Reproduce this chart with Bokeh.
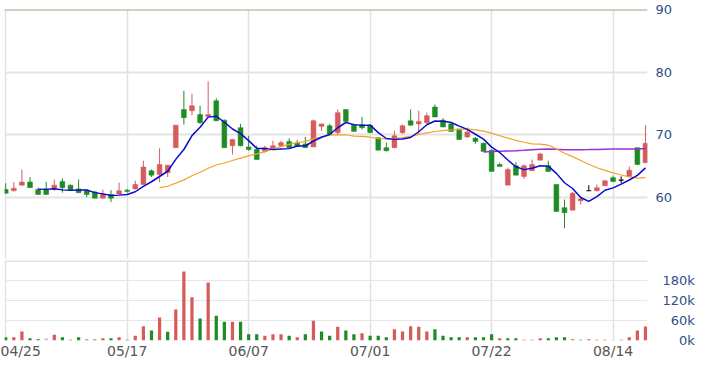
import numpy as np
import pandas as pd
from bokeh.plotting import figure
from bokeh.layouts import column
from bokeh.models import Range1d, FixedTicker, Span, ColumnDataSource
from bokeh.embed import file_html
from bokeh.resources import INLINE

# ---------------- data ----------------
tick_index = [0, 15, 30, 45, 60, 75]
tick_labels = ["04/25", "05/17", "06/07", "07/01", "07/22", "08/14"]

opens = [61.2, 61.0, 61.9, 62.4, 61.2, 61.3, 61.2, 62.5, 61.9, 61.3,
         61.1, 60.8, 59.8, 60.4, 60.5, 61.1, 61.3, 62.0, 64.2, 63.6,
         63.9, 67.9, 74.0, 73.8, 73.2, 72.9, 75.4, 72.3, 68.2, 71.1,
         68.0, 67.6, 67.3, 67.6, 68.2, 68.9, 68.6, 68.5, 68.0, 71.3,
         71.4, 70.3, 74.0, 71.6, 71.6, 71.5, 69.5, 67.9, 67.9, 70.3,
         72.2, 71.7, 71.9, 74.4, 72.3, 71.7, 70.9, 69.6, 69.4, 68.6,
         67.5, 65.2, 61.9, 65.0, 63.3, 64.2, 65.9, 65.0, 62.0, 58.3,
         57.9, 59.4, 61.0, 61.0, 61.8, 63.1, 62.7, 63.3, 67.9, 65.5]
highs = [62.2, 62.4, 64.4, 63.2, 61.5, 62.4, 62.8, 63.0, 62.0, 62.8,
         61.2, 61.0, 61.2, 61.1, 62.3, 61.3, 62.6, 65.8, 64.4, 67.8,
         65.1, 71.5, 77.0, 76.5, 74.6, 78.5, 75.8, 72.4, 69.3, 71.7,
         69.8, 68.2, 68.2, 69.0, 69.0, 69.4, 69.1, 69.6, 72.4, 71.7,
         71.7, 74.0, 74.0, 71.7, 72.8, 71.6, 69.5, 68.7, 70.6, 71.6,
         74.0, 73.8, 73.5, 74.8, 72.6, 71.9, 70.9, 71.1, 69.6, 68.7,
         67.6, 65.5, 64.7, 65.6, 65.2, 66.0, 67.1, 65.8, 62.0, 59.6,
         60.8, 60.1, 61.9, 62.0, 62.7, 63.4, 63.3, 64.9, 67.9, 71.5]
lows = [60.6, 60.9, 61.8, 61.5, 60.4, 60.4, 61.0, 60.7, 61.0, 60.7,
        60.0, 59.8, 59.8, 59.2, 60.4, 60.7, 61.2, 62.0, 63.2, 62.4,
        63.2, 67.9, 71.6, 73.1, 71.7, 72.9, 72.2, 67.9, 66.8, 68.1,
        67.4, 66.0, 67.1, 67.6, 68.0, 67.8, 68.0, 67.9, 68.0, 70.6,
        70.0, 69.9, 71.9, 70.5, 70.8, 70.3, 67.5, 67.3, 67.8, 70.1,
        71.4, 70.0, 71.6, 72.8, 71.2, 70.5, 69.2, 69.5, 68.5, 67.3,
        64.1, 64.9, 61.9, 63.5, 62.9, 64.2, 65.9, 64.1, 57.7, 55.0,
        57.9, 58.8, 61.0, 60.9, 61.8, 62.4, 62.2, 63.3, 65.1, 65.5]
closes = [60.6, 61.4, 62.4, 61.5, 60.4, 60.4, 61.9, 61.5, 61.1, 60.7,
          60.4, 59.8, 60.5, 59.8, 61.0, 60.9, 62.0, 64.8, 63.5, 65.2,
          65.1, 71.5, 72.7, 74.6, 71.9, 73.2, 72.2, 67.9, 69.2, 68.2,
          67.6, 66.0, 67.9, 68.2, 68.7, 67.9, 68.1, 67.9, 72.2, 71.7,
          70.1, 73.5, 72.1, 70.5, 71.1, 70.3, 67.5, 67.4, 69.8, 71.4,
          71.5, 72.1, 73.0, 72.8, 71.2, 70.5, 69.2, 70.4, 68.9, 67.3,
          64.1, 64.9, 64.4, 63.5, 65.0, 65.2, 66.9, 64.1, 57.7, 57.5,
          60.6, 59.7, 61.0, 61.5, 62.6, 62.5, 62.7, 64.3, 65.2, 68.6]
volumes_k = [10, 10, 27, 7, 4, 7, 17, 10, 2, 10,
             3, 3, 7, 7, 10, 2, 14, 43, 30, 69,
             26, 93, 207, 130, 66, 174, 74, 56, 56, 56,
             19, 19, 14, 19, 19, 14, 10, 19, 59, 27,
             14, 41, 30, 19, 22, 14, 14, 10, 34, 27,
             43, 41, 27, 34, 14, 10, 10, 10, 10, 10,
             19, 7, 7, 7, 2, 2, 7, 7, 10, 10,
             4, 2, 4, 2, 2, 1, 2, 10, 30, 42]

# ---------------- styles ----------------
RED = "#d65c5c"
GREEN = "#1f8b24"
GRAY = "#c8c8c8"
AXIS_BLUE = "#2f4f86"
FONT = "DejaVu Sans"

o = np.array(opens, dtype=float)
h = np.array(highs, dtype=float)
l = np.array(lows, dtype=float)
c = np.array(closes, dtype=float)
v = np.array(volumes_k, dtype=float) * 1000.0
idx = np.arange(len(c))

candle_color = np.where(c > o, RED, np.where(c < o, GREEN, "black"))
prev_close = np.concatenate([[o[0]], c[:-1]])
vol_color = np.where(c > prev_close, RED, np.where(c < prev_close, GREEN, GRAY))

cs = pd.Series(c)
ma5 = cs.rolling(5).mean().to_numpy()
ma20 = cs.rolling(20).mean().to_numpy()
ma60 = cs.rolling(60).mean().to_numpy()

body = (c != o)
src = ColumnDataSource(dict(x=idx, h=h, l=l, col=candle_color))
body_src = ColumnDataSource(dict(x=idx[body], top=np.maximum(o, c)[body],
                                 bot=np.minimum(o, c)[body], col=candle_color[body]))
doji_src = ColumnDataSource(dict(x0=idx[~body] - 0.3, x1=idx[~body] + 0.3,
                                 y=c[~body], col=candle_color[~body]))
vol_src = ColumnDataSource(dict(x=idx, v=v, col=vol_color))

xr = Range1d(-0.15, 79.25)

# ---------------- price panel ----------------
p1 = figure(x_range=xr, y_range=Range1d(50, 90),
            frame_width=643, frame_height=250,
            min_border_left=4, min_border_right=48, min_border_top=9, min_border_bottom=0,
            x_axis_location=None, y_axis_location="right",
            output_backend="svg", toolbar_location=None)
p1.outline_line_color = None
p1.background_fill_color = "white"
p1.border_fill_color = "white"

p1.yaxis.ticker = FixedTicker(ticks=[60, 70, 80, 90])
p1.yaxis.axis_line_color = None
p1.yaxis.major_tick_line_color = None
p1.yaxis.minor_tick_line_color = None
p1.yaxis.major_tick_out = 0
p1.yaxis.major_tick_in = 0
p1.yaxis.major_label_standoff = 8
p1.yaxis.major_label_text_font = FONT
p1.yaxis.major_label_text_font_size = "13px"
p1.yaxis.major_label_text_color = AXIS_BLUE

p1.ygrid.ticker = FixedTicker(ticks=[60, 70, 80])
p1.ygrid.grid_line_color = "#e4e4e4"
p1.ygrid.grid_line_width = 2
p1.xgrid.ticker = FixedTicker(ticks=tick_index)
p1.xgrid.grid_line_color = "#e0e0e0"
p1.xgrid.grid_line_width = 1.5

p1.add_layout(Span(location=90, dimension="width", line_color="#a8a284", line_width=2))

p1.segment(x0="x", y0="h", x1="x", y1="l", color="col", line_width=1, source=src)
p1.vbar(x="x", width=0.6, top="top", bottom="bot", fill_color="col", line_color="col",
        line_width=0.5, source=body_src)
p1.segment(x0="x0", y0="y", x1="x1", y1="y", color="col", line_width=1.2, source=doji_src)

p1.line(idx, ma60, line_color="#9b30d9", line_width=1.5)
p1.line(idx, ma20, line_color="#f2a22a", line_width=1.2)
p1.line(idx, ma5, line_color="#0b0bd0", line_width=1.5)

# ---------------- volume panel ----------------
p2 = figure(x_range=xr, y_range=Range1d(0, 240000),
            frame_width=643, frame_height=80,
            min_border_left=4, min_border_right=48, min_border_top=1, min_border_bottom=17,
            y_axis_location="right",
            output_backend="svg", toolbar_location=None)
p2.outline_line_color = None
p2.background_fill_color = "white"
p2.border_fill_color = "white"

vol_ticks = [0, 60000, 120000, 180000]
p2.yaxis.ticker = FixedTicker(ticks=vol_ticks)
fs = "\u2007"
p2.yaxis.major_label_overrides = {0: fs * 2 + "0k", 60000: fs + "60k",
                                  120000: "120k", 180000: "180k"}
p2.yaxis.axis_line_color = None
p2.yaxis.major_tick_line_color = None
p2.yaxis.minor_tick_line_color = None
p2.yaxis.major_tick_out = 0
p2.yaxis.major_tick_in = 0
p2.yaxis.major_label_standoff = 15
p2.yaxis.major_label_text_font = FONT
p2.yaxis.major_label_text_font_size = "13px"
p2.yaxis.major_label_text_color = AXIS_BLUE

p2.xaxis.ticker = FixedTicker(ticks=tick_index)
p2.xaxis.major_label_overrides = {i: lab for i, lab in zip(tick_index, tick_labels)}
p2.xaxis.axis_line_color = None
p2.xaxis.major_tick_line_color = None
p2.xaxis.minor_tick_line_color = None
p2.xaxis.major_tick_out = 0
p2.xaxis.major_tick_in = 0
p2.xaxis.major_label_standoff = 2
p2.xaxis.major_label_text_font = FONT
p2.xaxis.major_label_text_font_size = "14px"
p2.xaxis.major_label_text_color = "#555555"

p2.ygrid.ticker = FixedTicker(ticks=[60000, 120000, 180000])
p2.ygrid.grid_line_color = "#e6e6e6"
p2.ygrid.grid_line_width = 1
p2.xgrid.ticker = FixedTicker(ticks=tick_index)
p2.xgrid.grid_line_color = "#e0e0e0"
p2.xgrid.grid_line_width = 1.5

p2.add_layout(Span(location=240000, dimension="width", line_color="#e2e2e2", line_width=3))

p2.vbar(x="x", width=0.4, top="v", bottom=0, fill_color="col", line_color=None, source=vol_src)

layout = column(p1, p2, spacing=0)

open("out.html", "w").write(file_html(layout, INLINE))
